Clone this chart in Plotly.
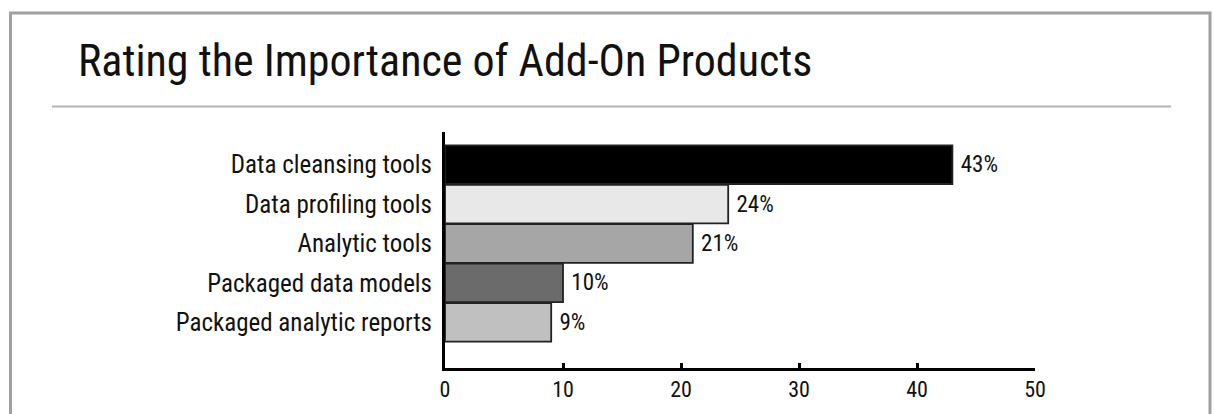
import plotly.graph_objects as go

categories = ["Data cleansing tools", "Data profiling tools", "Analytic tools",
              "Packaged data models", "Packaged analytic reports"]
values = [43, 24, 21, 10, 9]
value_labels = ["43%", "24%", "21%", "10%", "9%"]
bar_colors = ["#000000", "#e8e8e8", "#a6a6a6", "#6b6b6b", "#c0c0c0"]
x_ticks = [0, 10, 20, 30, 40, 50]

FONT = "Liberation Sans Narrow, Arial Narrow, Roboto Condensed, sans-serif"
W, H = 1214, 414
L, R, T, B = 445, 1035, 132, 368

def px(x):
    return (x - L) / (R - L)

def py(y):
    return (B - y) / (B - T)

fig = go.Figure(go.Bar(
    x=values, y=categories, orientation="h",
    marker=dict(color=bar_colors, line=dict(color="#222222", width=1.8)),
    text=value_labels, texttemplate=" %{text}", textposition="outside", cliponaxis=False,
    textfont=dict(family=FONT, size=23, color="#111111"),
    width=0.98,
))

fig.update_layout(
    width=W, height=H,
    margin=dict(l=L, r=W - R, t=T, b=H - B),
    paper_bgcolor="white", plot_bgcolor="white",
    showlegend=False,
    font=dict(family=FONT, color="#111111"),
    title=dict(text="Rating the Importance of Add-On Products",
               x=78 / W, xanchor="left", xref="container",
               y=1 - 61 / H, yanchor="middle", yref="container",
               font=dict(family=FONT, size=44, color="#111111")),
    xaxis=dict(range=[0, 50], tickvals=x_ticks, showgrid=False, zeroline=False,
               showline=True, linecolor="black", linewidth=3,
               ticks="inside", ticklen=5, tickwidth=3, tickcolor="black",
               tickfont=dict(family=FONT, size=22, color="#111111")),
    yaxis=dict(categoryorder="array", categoryarray=categories,
               range=[5.16, -0.83], showgrid=False, zeroline=False,
               showline=True, linecolor="black", linewidth=3,
               ticks="", ticklabelstandoff=5,
               tickfont=dict(family=FONT, size=25, color="#111111")),
    shapes=[
        dict(type="rect", xref="paper", yref="paper",
             x0=px(10.5), x1=px(1210), y0=py(430), y1=py(13),
             line=dict(color="#a0a0a0", width=3), layer="below"),
        dict(type="line", xref="paper", yref="paper",
             x0=px(52), x1=px(1171), y0=py(106.5), y1=py(106.5),
             line=dict(color="#b4b4b4", width=2)),
    ],
)

fig.write_html("out.html")
